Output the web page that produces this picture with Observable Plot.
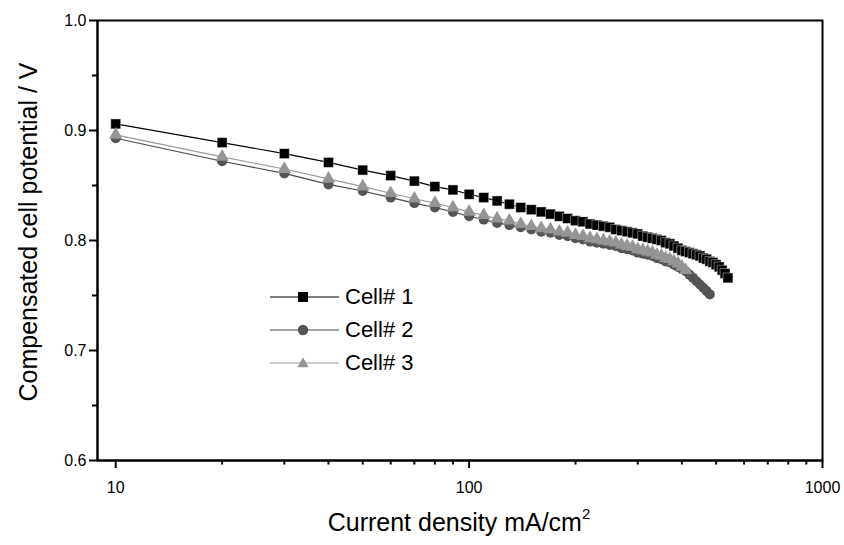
<!DOCTYPE html>
<html>
<head>
<meta charset="utf-8">
<script src="https://cdn.jsdelivr.net/npm/d3@7"></script>
<script src="https://cdn.jsdelivr.net/npm/@observablehq/plot@0.6"></script>
<style>
  html, body { margin: 0; padding: 0; background: white; }
  #wrap { position: relative; width: 844px; height: 545px; font-family: "Liberation Sans", Arial, sans-serif; }
  #wrap > svg { position: absolute; left: 0; top: 0; }
  .ytitle { position: absolute; left: 28px; top: 232px; transform: translate(-50%, -50%) rotate(-90deg); white-space: nowrap; font-size: 25px; color: #000; }
  .xtitle { position: absolute; left: 459px; top: 522px; transform: translate(-50%, -50%); white-space: nowrap; font-size: 25px; color: #000; }
  .xtitle sup { font-size: 15px; position: relative; top: -2px; }
  .legend { position: absolute; left: 268px; top: 280px; }
  .legend .row { display: flex; align-items: center; height: 33px; font-size: 22px; color: #000; }
  .legend .row svg { display: block; margin-right: 6px; }
</style>
</head>
<body>
<div id="wrap"></div>
<script>
// Current density (mA/cm^2)
const current1 = [10,20,30,40,50,60,70,80,90,100,110,120,130,140,150,160,170,180,190,200,210,220,230,240,250,260,270,280,290,300,310,320,330,340,350,360,370,380,390,400,410,420,430,440,450,460,470,480,490,500,510,520,530,540];
const current2 = [10,20,30,40,50,60,70,80,90,100,110,120,130,140,150,160,170,180,190,200,210,220,230,240,250,260,270,280,290,300,310,320,330,340,350,360,370,380,390,400,410,420,430,440,450,460,470,480];
const current3 = [10,20,30,40,50,60,70,80,90,100,110,120,130,140,150,160,170,180,190,200,210,220,230,240,250,260,270,280,290,300,310,320,330,340,350,360,370,380,390,400,410];

// Compensated cell potential (V)
const cell1 = [0.906,0.889,0.879,0.871,0.864,0.859,0.854,0.849,0.846,0.842,0.839,0.836,0.833,0.830,0.828,0.826,0.824,0.822,0.820,0.818,0.817,0.815,0.814,0.813,0.812,0.810,0.809,0.808,0.807,0.806,0.804,0.803,0.802,0.801,0.800,0.798,0.797,0.795,0.793,0.791,0.790,0.789,0.788,0.787,0.786,0.784,0.783,0.781,0.780,0.778,0.776,0.773,0.770,0.766];
const cell2 = [0.893,0.872,0.861,0.851,0.845,0.839,0.834,0.830,0.826,0.822,0.819,0.816,0.814,0.812,0.810,0.808,0.807,0.805,0.804,0.802,0.801,0.799,0.798,0.797,0.796,0.795,0.793,0.792,0.791,0.789,0.788,0.787,0.786,0.784,0.783,0.781,0.780,0.778,0.776,0.774,0.772,0.769,0.766,0.763,0.760,0.757,0.754,0.751];
const cell3 = [0.896,0.876,0.865,0.856,0.849,0.843,0.838,0.834,0.830,0.826,0.823,0.820,0.818,0.815,0.813,0.811,0.810,0.808,0.807,0.805,0.804,0.802,0.801,0.800,0.799,0.798,0.796,0.795,0.794,0.792,0.791,0.790,0.789,0.787,0.786,0.784,0.783,0.781,0.779,0.776,0.773];

const seriesNames = ["Cell# 1", "Cell# 2", "Cell# 3"];
const xMajorTicks = [10, 100, 1000];
const xMinorTicks = [20,30,40,50,60,70,80,90,200,300,400,500,600,700,800,900];
const yMajorTicks = [0.6, 0.7, 0.8, 0.9, 1.0];
const yMinorTicks = [0.65, 0.75, 0.85, 0.95];
const xDomain = [8.88, 1000];
const yDomain = [0.6, 1.0];

const d1 = current1.map((x, i) => ({x, y: cell1[i]}));
const d2 = current2.map((x, i) => ({x, y: cell2[i]}));
const d3s = current3.map((x, i) => ({x, y: cell3[i]}));

const chart = Plot.plot({
  width: 844,
  height: 545,
  marginLeft: 97,
  marginRight: 22,
  marginTop: 20,
  marginBottom: 85,
  x: {type: "log", domain: xDomain, axis: null},
  y: {domain: yDomain, axis: null},
  style: {fontFamily: "'Liberation Sans', Arial, sans-serif", background: "transparent", color: "black"},
  marks: [
    Plot.frame({stroke: "black", strokeWidth: 2}),
    Plot.ruleY([yDomain[0]], {stroke: "black", strokeWidth: 2}),
    Plot.ruleX([xDomain[0]], {stroke: "black", strokeWidth: 2}),
    Plot.axisX({ticks: xMajorTicks, tickSize: 8, tickPadding: 13, fontSize: 16, tickFormat: d => String(d), label: null, stroke: "black", strokeWidth: 2, fill: "black"}),
    Plot.axisX({ticks: xMinorTicks, tickSize: 4.5, tickFormat: () => "", label: null, stroke: "black", strokeWidth: 2}),
    Plot.axisY({ticks: yMajorTicks, tickSize: 8, tickPadding: 3, fontSize: 16, tickFormat: d => d.toFixed(1), label: null, stroke: "black", strokeWidth: 2, fill: "black"}),
    Plot.axisY({ticks: yMinorTicks, tickSize: 5, tickFormat: () => "", label: null, stroke: "black", strokeWidth: 2}),
    Plot.line(d1, {x: "x", y: "y", stroke: "#000", strokeWidth: 1.1}),
    Plot.dot(d1, {x: "x", y: "y", symbol: "square", r: 5.6, fill: "#000", stroke: "#fff", strokeWidth: 0.4}),
    Plot.line(d2, {x: "x", y: "y", stroke: "#4a4a4a", strokeWidth: 1.1}),
    Plot.dot(d2, {x: "x", y: "y", symbol: "circle", r: 5, fill: "#555", stroke: "none"}),
    Plot.line(d3s, {x: "x", y: "y", stroke: "#9a9a9a", strokeWidth: 1.1}),
    Plot.dot(d3s, {x: "x", y: "y", symbol: "triangle", r: 5, fill: "#959595", stroke: "none"})
  ]
});

const wrap = document.getElementById("wrap");
wrap.appendChild(chart);

const yt = document.createElement("div");
yt.className = "ytitle";
yt.textContent = "Compensated cell potential / V";
wrap.appendChild(yt);

const xt = document.createElement("div");
xt.className = "xtitle";
xt.innerHTML = "Current density mA/cm<sup>2</sup>";
wrap.appendChild(xt);

// Legend
const legendStyles = [
  {line: "#000", fill: "#000", shape: "square"},
  {line: "#4a4a4a", fill: "#555", shape: "circle"},
  {line: "#9a9a9a", fill: "#959595", shape: "triangle"}
];
const legend = document.createElement("div");
legend.className = "legend";
seriesNames.forEach((name, i) => {
  const st = legendStyles[i];
  const row = document.createElement("div");
  row.className = "row";
  let marker = "";
  if (st.shape === "square") marker = `<rect x="30" y="4" width="10" height="10" fill="${st.fill}"/>`;
  if (st.shape === "circle") marker = `<circle cx="35" cy="9" r="5.2" fill="${st.fill}"/>`;
  if (st.shape === "triangle") marker = `<path d="M35,3.3 L40.6,13.2 L29.4,13.2 Z" fill="${st.fill}"/>`;
  row.innerHTML = `<svg width="71" height="18"><line x1="2" y1="9" x2="71" y2="9" stroke="${st.line}" stroke-width="1.2"/>${marker}</svg><span>${name}</span>`;
  legend.appendChild(row);
});
wrap.appendChild(legend);
</script>
</body>
</html>
